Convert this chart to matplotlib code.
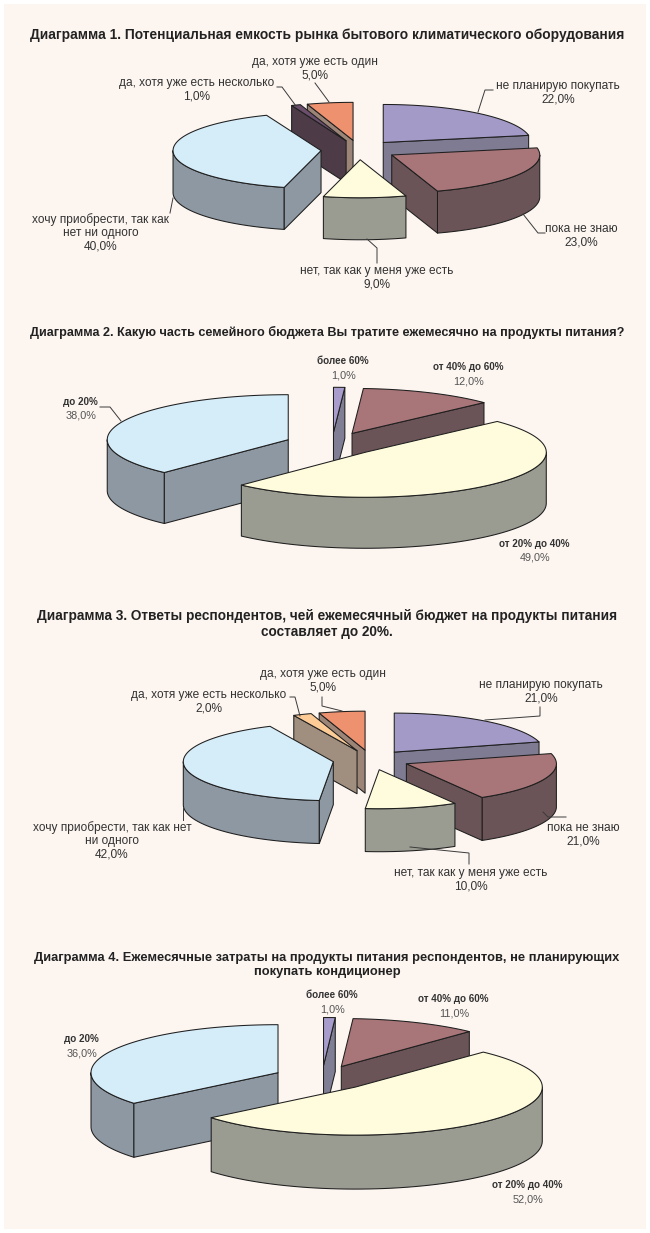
import numpy as np
import matplotlib
matplotlib.use("Agg")
import matplotlib.pyplot as plt
from matplotlib.patches import Polygon, Rectangle

plt.rcParams['font.family'] = ['Liberation Sans Narrow', 'Liberation Sans', 'DejaVu Sans']

# ---- data ----
titles = [
    "Диаграмма 1. Потенциальная емкость рынка бытового климатического оборудования",
    "Диаграмма 2. Какую часть семейного бюджета Вы тратите ежемесячно на продукты питания?",
    "Диаграмма 3. Ответы респондентов, чей ежемесячный бюджет на продукты питания\nсоставляет до 20%.",
    "Диаграмма 4. Ежемесячные затраты на продукты питания респондентов, не планирующих\nпокупать кондиционер",
]

plan_labels_1 = ["не планирую покупать", "пока не знаю", "нет, так как у меня уже есть",
                 "хочу приобрести, так как\nнет ни одного", "да, хотя уже есть несколько",
                 "да, хотя уже есть один"]
plan_labels_3 = ["не планирую покупать", "пока не знаю", "нет, так как у меня уже есть",
                 "хочу приобрести, так как нет\nни одного", "да, хотя уже есть несколько",
                 "да, хотя уже есть один"]
plan_all = [22.0, 23.0, 9.0, 40.0, 1.0, 5.0]
plan_low_budget = [21.0, 21.0, 10.0, 42.0, 2.0, 5.0]

budget_labels = ["более 60%", "от 40% до 60%", "от 20% до 40%", "до 20%"]
budget_all = [1.0, 12.0, 49.0, 38.0]
budget_no_buy = [1.0, 11.0, 52.0, 36.0]

# ---- colours (top face, side face) ----
plan_top_1 = ["#A49AC8", "#A87579", "#FFFCDD", "#D5ECF9", "#6B4E6B", "#EE916F"]
plan_side_1 = ["#7E7B92", "#6B5458", "#9A9B91", "#8D98A3", "#4D3B48", "#9C8577"]
plan_top_3 = ["#A49AC8", "#A87579", "#FFFCDD", "#D5ECF9", "#FCCB96", "#EE916F"]
plan_side_3 = ["#7E7B92", "#6B5458", "#9A9B91", "#8D98A3", "#A08E7E", "#9C8577"]
budget_top = ["#A79CCB", "#A87579", "#FFFCDD", "#D5ECF9"]
budget_side = ["#7F7E94", "#6B5458", "#9A9B91", "#8D98A3"]

EDGE = "#1e1e1e"
TXT = "#333333"


def draw_pie3d(ax, values, tops, sides, cx, cy, rx, ry, h, explode):
    vals = np.asarray(values, dtype=float)
    ang = np.concatenate([[0], np.cumsum(vals / vals.sum() * 360.0)])
    slices = []
    for i in range(len(vals)):
        a1, a2 = ang[i], ang[i + 1]
        mid = np.radians((a1 + a2) / 2)
        slices.append((np.cos(mid), i, a1, a2, mid))
    # back slices first
    slices.sort(key=lambda s: -s[0])

    def pt(c, a, r=1.0, dz=0.0):
        t = np.radians(a)
        return (c[0] + r * rx * np.sin(t), c[1] - r * ry * np.cos(t) + dz)

    for _, i, a1, a2, mid in slices:
        c = (cx + explode * rx * np.sin(mid), cy - explode * ry * np.cos(mid))
        kw = dict(edgecolor=EDGE, linewidth=0.75, joinstyle="round", zorder=2)
        # outer curved side, only the part facing the viewer
        lo, hi = max(a1, 90.0), min(a2, 270.0)
        if hi > lo:
            arc = np.linspace(lo, hi, 60)
            top = [pt(c, a) for a in arc]
            bot = [pt(c, a, dz=h) for a in arc[::-1]]
            ax.add_patch(Polygon(top + bot, closed=True, facecolor=sides[i], **kw))
        # radial cut faces
        for a, vis in ((a1, np.sin(np.radians(a1)) < -1e-6),
                       (a2, np.sin(np.radians(a2)) > 1e-6)):
            if vis:
                p = [c, pt(c, a), pt(c, a, dz=h), (c[0], c[1] + h)]
                ax.add_patch(Polygon(p, closed=True, facecolor=sides[i], **kw))
        # top face
        arc = np.linspace(a1, a2, max(int(a2 - a1) + 2, 3))
        p = [c] + [pt(c, a) for a in arc]
        ax.add_patch(Polygon(p, closed=True, facecolor=tops[i], **kw))


def leader(ax, xs, ys):
    ax.plot(xs, ys, color="#3a3a3a", lw=0.7, zorder=3, solid_joinstyle="miter")


def pct(v):
    return f"{v:.1f}%".replace(".", ",")


fig = plt.figure(figsize=(6.5, 12.33), dpi=100)
fig.patch.set_facecolor("white")
ax = fig.add_axes([0, 0, 1, 1])
ax.set_xlim(0, 650)
ax.set_ylim(1233, 0)
ax.axis("off")
ax.add_patch(Rectangle((4, 4), 642, 1225, facecolor="#FCF5F0", edgecolor="none", zorder=0))

title_kw = dict(ha="center", va="center", fontweight="bold", color="#222222", linespacing=1.25)
lab_kw = dict(ha="center", va="center", fontsize=8.6, color=TXT, linespacing=1.15)
blab_kw = dict(ha="center", va="center", fontsize=7.1, fontweight="bold", color=TXT)
plab_kw = dict(ha="center", va="center", fontsize=7.8, color="#555555")


def plan_labels(ax, pos, names, values):
    for (x, y), name, v in zip(pos, names, values):
        nl = name.count("\n")
        ax.text(x, y + 7 * (nl + 1), name + "\n" + pct(v), **lab_kw)


def budget_text(ax, pos, names, values):
    for (x, y), name, v in zip(pos, names, values):
        ax.text(x, y, name, **blab_kw)
        ax.text(x + 1, y + 14, pct(v), **plab_kw)


# ---- chart 1 ----
ax.text(327, 35, titles[0], fontsize=9.9, **title_kw)
draw_pie3d(ax, plan_all, plan_top_1, plan_side_1, 359, 150, 148, 38, 42, 0.257)
plan_labels(ax, [(558, 86), (581, 229), (377, 271), (101, 219), (197, 83), (315, 62)],
            plan_labels_1, plan_all)
leader(ax, [493, 485, 478], [90, 90, 112])
leader(ax, [545, 538, 523], [233, 233, 214])
leader(ax, [377, 377, 367], [263, 248, 239])
leader(ax, [170, 173], [213, 198])
leader(ax, [277, 282, 296], [87, 87, 106])
leader(ax, [315, 329], [83, 102])

# ---- chart 2 ----
ax.text(327, 332, titles[1], fontsize=9.05, **title_kw)
draw_pie3d(ax, budget_all, budget_top, budget_side, 332, 444, 181, 45, 51, 0.26)
budget_text(ax, [(343, 361), (468, 367), (534, 544), (80, 402)], budget_labels, budget_all)
leader(ax, [100, 110, 121], [407, 407, 421])

# ---- chart 3 ----
ax.text(327, 624, titles[2], fontsize=9.85, **title_kw)
draw_pie3d(ax, plan_low_budget, plan_top_3, plan_side_3, 371, 760, 150, 39, 43, 0.255)
plan_labels(ax, [(541, 685), (583, 828), (471, 873), (112, 827), (209, 695), (323, 674)],
            plan_labels_3, plan_low_budget)
leader(ax, [540, 540, 485], [707, 716, 720])
leader(ax, [566, 548, 543], [817, 817, 812])
leader(ax, [469, 469, 410], [864, 853, 847])
leader(ax, [183, 183], [820, 808])
leader(ax, [290, 295, 300], [697, 697, 716])
leader(ax, [322, 322, 342], [697, 706, 711])

# ---- chart 4 ----
ax.text(327, 965, titles[3], fontsize=9.3, **title_kw)
draw_pie3d(ax, budget_no_buy, budget_top, budget_side, 322, 1078, 187, 48, 54, 0.26)
budget_text(ax, [(332, 995), (453, 999), (527, 1185), (81, 1039)], budget_labels, budget_no_buy)

fig.savefig("out.png", dpi=100, facecolor=fig.get_facecolor())
